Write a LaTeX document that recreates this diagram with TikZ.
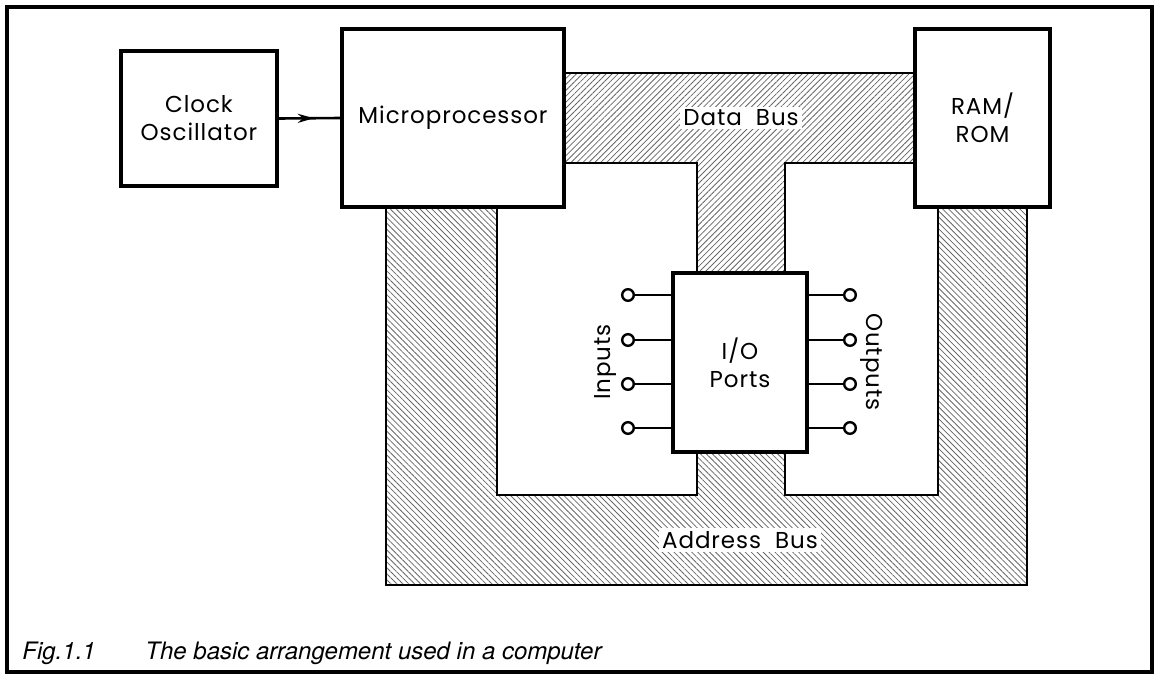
\documentclass[tikz,border=0pt]{standalone}
\usepackage{fontspec}
\setmainfont{TeX Gyre Heros}
\newfontfamily\lblfont[LetterSpace=4]{Poppins}
\usetikzlibrary{patterns.meta,decorations.markings,arrows.meta}
\begin{document}
\begin{tikzpicture}[x=0.5pt,y=-0.5pt,
  lbl/.style={font=\lblfont\fontsize{11.5}{14}\selectfont},
  box/.style={draw,line width=1.7pt,fill=white,inner sep=0pt,align=center,lbl},
  busedge/.style={draw,line width=1.3pt},
  hatchA/.style={pattern={Lines[angle=45,distance=2.1pt,line width=0.4pt]},pattern color=black!60},
  hatchB/.style={pattern={Lines[angle=-45,distance=2.1pt,line width=0.4pt]},pattern color=black!60},
  buslabel/.style={fill=white,inner sep=1.5pt,lbl},
  pinend/.style={circle,draw,line width=1.2pt,fill=white,minimum size=5.8pt,inner sep=0pt},
  pinline/.style={line width=1.3pt},
  frame/.style={line width=1.7pt}
]
\useasboundingbox (0,0) rectangle (1155,680);
\draw[frame] (7,7) rectangle (1152,672);

% buses
\draw[busedge,hatchA] (564,73) -- (915,73) -- (915,163) -- (785,163) -- (785,273)
  -- (697,273) -- (697,163) -- (564,163) -- cycle;
\draw[busedge,hatchB] (386,207) -- (497,207) -- (497,495) -- (697,495) -- (697,452)
  -- (785,452) -- (785,495) -- (938,495) -- (938,207) -- (1027,207) -- (1027,585)
  -- (386,585) -- cycle;

% boxes
\node[box,minimum width=78pt,minimum height=67.5pt] (clk) at (199,118.5) {Clock\\Oscillator};
\node[box,minimum width=111pt,minimum height=89pt] (micro) at (453,118) {Microprocessor};
\node[box,minimum width=67.5pt,minimum height=89pt] (ram) at (982.5,118) {RAM/\\ROM};
\node[box,minimum width=67pt,minimum height=89.5pt] (io) at (740,362.5) {I/O\\Ports};

% bus labels
\node[buslabel] (db) at (741,118) {Data\ \ Bus};
\node[buslabel] (ab) at (740,540) {Address\ \ Bus};

% clock arrow
\draw[pinline,postaction={decorate},decoration={markings,
  mark=at position 0.57 with {\arrow{Stealth[length=8pt,width=4.5pt]}}}] (clk.east) -- (micro.west);

% pins
\foreach \y [count=\i] in {295,340,384,428} {
  \node[pinend] (in\i) at (628,\y) {};
  \draw[pinline] (in\i) -- (io.west |- in\i);
  \node[pinend] (out\i) at (850,\y) {};
  \draw[pinline] (io.east |- out\i) -- (out\i);
}
\node[lbl,rotate=90] (inl) at (605,362) {Inputs};
\node[lbl,rotate=-90] (outl) at (872,362) {Outputs};

% caption
\node[anchor=base west,inner sep=0pt,font=\itshape\fontsize{12}{14}\selectfont] (fig) at (22,659) {Fig.1.1};
\node[anchor=base west,inner sep=0pt,font=\itshape\fontsize{12}{14}\selectfont] (cap) at (145,659) {The basic arrangement used in a computer};
\end{tikzpicture}
\end{document}
